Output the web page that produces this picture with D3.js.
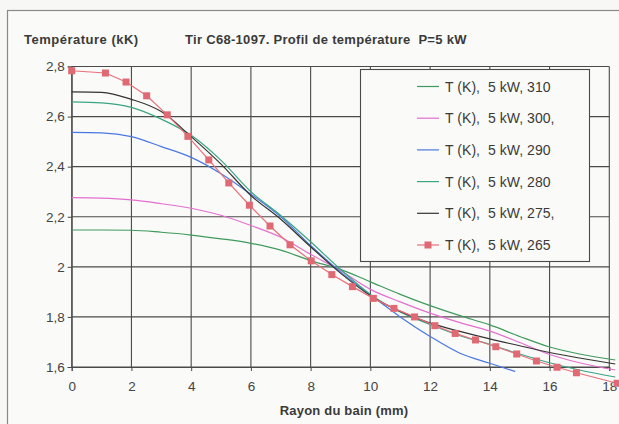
<!DOCTYPE html>
<html><head><meta charset="utf-8">
<script src="https://cdn.jsdelivr.net/npm/d3@7"></script>
<style>
html,body{margin:0;padding:0;background:#f7f7f5;}
svg{display:block;font-family:"Liberation Sans",Arial,sans-serif;}
</style></head>
<body><svg id="c" width="619" height="424"></svg>
<script>
// ---- data ----
const xGrid = [0,1,2,3,4,5,6,7,8,9,10,11,12,13,14,15,16,17,18.2];
const t310 = [2.147,2.147,2.146,2.138,2.127,2.112,2.094,2.067,2.025,1.99,1.94,1.89,1.845,1.805,1.768,1.722,1.68,1.652,1.628];
const t300 = [2.276,2.274,2.267,2.252,2.234,2.206,2.165,2.118,2.05,1.985,1.91,1.86,1.815,1.777,1.743,1.698,1.65,1.617,1.588];
const xBlue = [0,1,2,3,4,5,6,7,8,9,10,11,12,13,14,14.85];
const t290 = [2.537,2.535,2.52,2.48,2.437,2.372,2.29,2.2,2.085,1.98,1.888,1.8,1.722,1.655,1.615,1.582];
const t280 = [2.659,2.655,2.637,2.59,2.525,2.425,2.3,2.205,2.1,1.99,1.89,1.82,1.77,1.725,1.69,1.652,1.617,1.588,1.56];
const t275 = [2.699,2.697,2.669,2.62,2.52,2.41,2.285,2.19,2.08,1.975,1.885,1.822,1.775,1.742,1.712,1.685,1.658,1.636,1.612];
const xRed = [0,1.13,1.82,2.51,3.2,3.89,4.59,5.26,5.95,6.64,7.31,8.02,8.71,9.4,10.1,10.79,11.48,12.16,12.84,13.52,14.2,14.9,15.56,16.25,16.9,18.26];
const t265 = [2.783,2.774,2.738,2.683,2.607,2.521,2.427,2.335,2.246,2.163,2.088,2.024,1.969,1.921,1.874,1.834,1.8,1.765,1.734,1.708,1.681,1.652,1.624,1.599,1.577,1.535];
const xTicks = [0,2,4,6,8,10,12,14,16,18];
const yTicks = [1.6,1.8,2.0,2.2,2.4,2.6,2.8];
const legendLabels = ["T (K),  5 kW, 310","T (K),  5 kW, 300,","T (K),  5 kW, 290","T (K),  5 kW, 280","T (K),  5 kW, 275,","T (K),  5 kW, 265"];

const series = [
  {x:xGrid, y:t310, color:"#3f9a5e", label:legendLabels[0], smooth:true},
  {x:xGrid, y:t300, color:"#e46fcf", label:legendLabels[1], smooth:true},
  {x:xBlue, y:t290, color:"#4a78e2", label:legendLabels[2], smooth:true},
  {x:xGrid, y:t280, color:"#3aa584", label:legendLabels[3], smooth:true},
  {x:xGrid, y:t275, color:"#333333", label:legendLabels[4], smooth:true},
  {x:xRed,  y:t265, color:"#e8707c", label:legendLabels[5], smooth:false, marker:"#e06a74"}
];

const svg = d3.select("#c");
const L = 71.7, R = 609.3, T = 66.5, B = 367;
const x = d3.scaleLinear().domain([0,18]).range([L,R]);
const y = d3.scaleLinear().domain([1.6,2.8]).range([B,T]);

// outer frame
svg.append("rect").attr("x",7.5).attr("y",10.5).attr("width",640).attr("height",440)
  .attr("fill","#fafaf8").attr("stroke","#8a8a8a").attr("stroke-width",1.2);

// grid
const gridColor = "#4a4a4a";
svg.append("g").selectAll("line").data(xTicks).join("line")
  .attr("x1",d=>x(d)).attr("x2",d=>x(d)).attr("y1",T).attr("y2",B)
  .attr("stroke",gridColor).attr("stroke-width",1.1);
svg.append("g").selectAll("line").data(yTicks).join("line")
  .attr("x1",L).attr("x2",R).attr("y1",d=>y(d)).attr("y2",d=>y(d))
  .attr("stroke",gridColor).attr("stroke-width",1.1);

// axes
const yAxis = svg.append("g").attr("transform",`translate(${L},0)`)
  .call(d3.axisLeft(y).tickValues(yTicks).tickSize(4).tickPadding(3).tickFormat(d=> d===2 ? "2" : d3.format(".1f")(d).replace(".",",")));
const xAxis = svg.append("g").attr("transform",`translate(0,${B})`)
  .call(d3.axisBottom(x).tickValues(xTicks).tickSize(4).tickPadding(10).tickFormat(d3.format("d")));
[yAxis,xAxis].forEach(a=>{
  a.select(".domain").attr("stroke",gridColor);
  a.selectAll(".tick line").attr("stroke",gridColor);
  a.selectAll("text").attr("fill","#444").attr("font-size",13.5).attr("font-family","Liberation Sans, Arial, sans-serif");
});

// lines
series.forEach(s=>{
  const pts = s.x.map((v,i)=>[v,s.y[i]]);
  const line = d3.line().x(d=>x(d[0])).y(d=>y(d[1]))
    .curve(s.smooth ? d3.curveMonotoneX : d3.curveLinear);
  svg.append("path").datum(pts).attr("d",line).attr("fill","none")
    .attr("stroke",s.color).attr("stroke-width",1.2);
  if(s.marker){
    svg.append("g").selectAll("rect").data(pts).join("rect")
      .attr("x",d=>x(d[0])-3.5).attr("y",d=>y(d[1])-3.5)
      .attr("width",7).attr("height",7).attr("fill",s.marker);
  }
});

// legend
const lg = svg.append("g");
lg.append("rect").attr("x",360.5).attr("y",69.5).attr("width",229).attr("height",192)
  .attr("fill","#fafaf8").attr("stroke","#4a4a4a").attr("stroke-width",1.1);
const rowY = d3.scalePoint().domain(d3.range(series.length)).range([86.5,245]);
series.forEach((s,i)=>{
  const yy = rowY(i);
  lg.append("line").attr("x1",417).attr("x2",439).attr("y1",yy).attr("y2",yy)
    .attr("stroke",s.color).attr("stroke-width",1.2);
  if(s.marker) lg.append("rect").attr("x",424.5).attr("y",yy-3.5).attr("width",7).attr("height",7).attr("fill",s.marker);
  lg.append("text").attr("x",445).attr("y",yy+5).attr("font-size",14).attr("letter-spacing",0.05).attr("fill","#3a3a3a")
    .style("white-space","pre").text(s.label);
});

// titles
svg.append("text").attr("x",24).attr("y",44).attr("font-size",13).attr("font-weight","bold").attr("letter-spacing",0.5)
  .attr("fill","#3a3a3a").text("Température (kK)");
svg.append("text").attr("x",185).attr("y",44).attr("font-size",13).attr("font-weight","bold").attr("letter-spacing",0.3)
  .attr("fill","#3a3a3a").style("white-space","pre").text("Tir C68-1097. Profil de température  P=5 kW");
svg.append("text").attr("x",344).attr("y",415).attr("text-anchor","middle").attr("font-size",13).attr("font-weight","bold").attr("letter-spacing",0.2)
  .attr("fill","#3a3a3a").text("Rayon du bain (mm)");
</script></body></html>
